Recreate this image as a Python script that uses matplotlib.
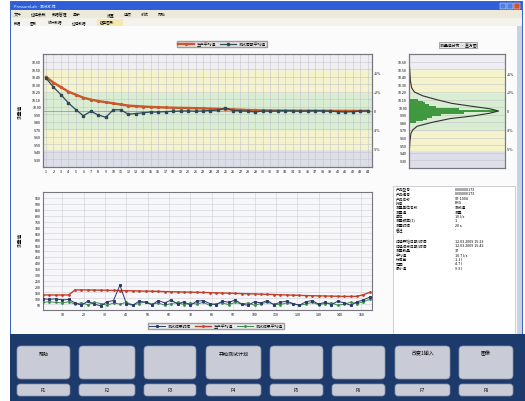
import matplotlib
matplotlib.use('Agg')
import matplotlib.pyplot as plt
from matplotlib.patches import Rectangle, FancyBboxPatch

plt.rcParams['font.family'] = ['Noto Sans CJK SC', 'DejaVu Sans']

# ---------------- data ----------------
top_x = list(range(1, 45))
top_avg = [11.95, 11.2, 10.6, 10.0, 9.6, 9.2, 8.95, 8.75, 8.6, 8.45, 8.3, 8.15, 8.08, 8.02,
           7.97, 7.93, 7.9, 7.87, 7.85, 7.83, 7.81, 7.78, 7.75, 7.72, 7.68, 7.64, 7.6, 7.56,
           7.53, 7.51, 7.5, 7.49, 7.48, 7.48, 7.47, 7.47, 7.46, 7.46, 7.46, 7.45, 7.45, 7.45,
           7.45, 7.45]
top_val = [11.8, 10.6, 9.6, 8.5, 7.6, 6.8, 7.4, 6.9, 6.6, 7.6, 7.6, 7.0, 7.1, 7.2, 7.3, 7.3,
           7.35, 7.4, 7.42, 7.45, 7.4, 7.45, 7.5, 7.55, 7.85, 7.5, 7.45, 7.4, 7.3, 7.45, 7.4,
           7.45, 7.5, 7.45, 7.4, 7.45, 7.5, 7.45, 7.4, 7.35, 7.3, 7.35, 7.4, 7.45]
top_yticks = list(range(1, 15))
top_ylabels = ["9.30", "9.40", "9.50", "9.60", "9.70", "9.80", "9.90", "10.00", "10.10",
               "10.20", "10.30", "10.40", "10.50", "10.60"]
limit_ticks = [2.5, 5.0, 7.5, 10.0, 12.5]
limit_labels = ["-5%", "-2%", "0", "+2%", "+5%"]

hist_y = [6.0, 6.25, 6.5, 6.75, 7.0, 7.25, 7.5, 7.75, 8.0, 8.25, 8.5, 8.75, 9.0]
hist_w = [0.08, 0.15, 0.2, 0.25, 0.35, 0.6, 0.95, 0.55, 0.3, 0.22, 0.18, 0.15, 0.1]
curve_y = [2.5, 3.5, 4.5, 5.0, 5.5, 6.0, 6.5, 6.85, 7.2, 7.5, 7.8, 8.1, 8.5, 9.0, 9.5, 10.0,
           10.5, 11.5, 12.5, 13.5]
curve_w = [0.005, 0.01, 0.02, 0.04, 0.09, 0.25, 0.45, 0.7, 0.88, 0.98, 0.88, 0.7, 0.47,
           0.3, 0.15, 0.06, 0.03, 0.015, 0.01, 0.005]

bot_x = list(range(1, 155, 3))
bot_avg = [2.55, 2.55, 2.55, 2.55, 2.55, 3.4, 3.4, 3.4, 3.38, 3.36, 3.34, 3.32, 3.3, 3.28,
           3.25, 3.22, 3.2, 3.18, 3.15, 3.12, 3.1, 3.07, 3.05, 3.02, 3.0, 2.97, 2.94, 2.91,
           2.88, 2.85, 2.82, 2.78, 2.75, 2.72, 2.68, 2.65, 2.62, 2.58, 2.55, 2.52, 2.48, 2.45,
           2.42, 2.4, 2.38, 2.35, 2.33, 2.3, 2.3, 2.32, 2.6, 3.0]
bot_val = [1.9, 1.8, 1.9, 1.7, 1.8, 1.2, 0.8, 1.5, 1.0, 0.7, 1.4, 1.6, 4.2, 1.1, 0.8, 1.5,
           1.3, 0.9, 1.6, 1.2, 1.7, 1.0, 1.4, 0.8, 1.5, 1.6, 1.1, 0.9, 1.5, 1.3, 1.7, 1.0,
           0.8, 1.4, 1.2, 1.6, 0.9, 1.3, 1.5, 1.1, 0.8, 1.4, 1.6, 1.0, 1.3, 0.9, 1.5, 1.2,
           0.8, 1.4, 1.7, 2.2]
bot_mean = [1.3, 1.4, 1.3, 1.2, 1.4, 1.0, 1.2, 0.9, 1.3, 1.1, 0.8, 1.2, 1.0, 1.3, 0.9, 1.1,
            1.4, 1.0, 1.2, 0.8, 1.1, 1.3, 0.9, 1.2, 1.0, 1.3, 0.8, 1.1, 1.2, 0.9, 1.3, 1.0,
            1.2, 0.8, 1.1, 1.3, 1.0, 0.9, 1.2, 1.1, 0.8, 1.0, 1.3, 0.9, 1.1, 1.2, 0.8, 1.0,
            1.3, 1.1, 1.4, 1.8]
bot_xticks = list(range(10, 151, 10))
bot_yticks = list(range(1, 20))
bot_ylabels = [str(v) for v in range(50, 1000, 50)]

info_labels1 = ["产品型号", "产品编号", "产品名称", "批号", "测量单位名称", "测量值", "单位",
                "测量频率(1)", "测量时间", "备注"]
info_values1 = ["0000000173", "0000000173", "ST-1004", "ERG", "测试值", "测量", "10 l/s", "1",
                "20 s", "-"]
info_labels2 = ["过程开始日期/时间", "过程结束日期/时间", "测量数量", "平均值", "标准差", "范围", "最小值"]
info_values2 = ["12.03.2009 15:23", "12.03.2009 15:42", "37", "10.7 l/s", "1.1 l", "4.7 l",
                "9.3 l"]

button_labels = ["帮助", "", "", "开始测试计划", "", "", "改变1输入", "图像"]
fkey_labels = ["F1", "F2", "F3", "F4", "F5", "F6", "F7", "F8"]

# ---------------- figure ----------------
W, H = 525, 402
fig = plt.figure(figsize=(W / 100, H / 100), dpi=100)
fig.patch.set_facecolor('white')

bg = fig.add_axes([0, 0, 1, 1])
bg.set_xlim(0, W)
bg.set_ylim(H, 0)
bg.axis('off')


def rect(x0, y0, x1, y1, fc, ec='none', lw=0, z=0):
    bg.add_patch(Rectangle((x0, y0), x1 - x0, y1 - y0, facecolor=fc, edgecolor=ec, lw=lw, zorder=z))


# window chrome
rect(10, 2, 523, 402, '#3a66c8')
rect(11, 3, 522, 11, '#2e5fd6')
bg.text(14, 7, 'PressureLab - 测试系统', color='white', fontsize=2.8, va='center')
rect(500, 4, 506, 10, '#4f7fe0', ec='white', lw=0.3)
rect(507, 4, 513, 10, '#4f7fe0', ec='white', lw=0.3)
rect(514, 4, 520, 10, '#d8502c', ec='white', lw=0.3)
rect(11, 11, 522, 19, '#ece9d8')
menu = ["文件", "过程参数", "数据管理", "显示", "", "设置", "选项", "系统", "帮助"]
mx = 14
for m in menu:
    if m:
        bg.text(mx, 15, m, fontsize=2.8, va='center')
    mx += 17 if len(m) <= 2 else 21
rect(11, 19, 522, 27, '#f3f2ec')
rect(97, 20, 123, 27, '#f5e9b0')
tabs = [(14, "数据"), (30, "图形"), (48, "统计数据"), (72, "过程数据"), (100, "趋势图形")]
for tx, tt in tabs:
    bg.text(tx, 23.5, tt, fontsize=2.6, va='center')
rect(11, 27, 522, 335, '#fbfbfc')
rect(517, 27, 522, 335, '#c9d2e3')
rect(393, 187, 515, 336, 'white', ec='#b8bcc8', lw=0.5)

# info panel text
for i, (lab, val) in enumerate(zip(info_labels1, info_values1)):
    y = 190 + i * 4.5
    bg.text(396, y, lab, fontsize=2.7, va='center')
    bg.text(455, y, val, fontsize=2.7, va='center')
for i, (lab, val) in enumerate(zip(info_labels2, info_values2)):
    y = 242 + i * 4.5
    bg.text(396, y, lab, fontsize=2.7, va='center')
    bg.text(455, y, val, fontsize=2.7, va='center')

# bottom button bar
rect(10, 335, 525, 402, '#1d3a6c')
btn_x = [(15, 72), (77, 137), (142, 198), (204, 263), (268, 325), (330, 387), (393, 452), (457, 515)]
for (x0, x1), lab, fk in zip(btn_x, button_labels, fkey_labels):
    bg.add_patch(FancyBboxPatch((x0 + 2, 347), x1 - x0 - 4, 33,
                                boxstyle='round,pad=0,rounding_size=4',
                                facecolor='#c9ccd6', edgecolor='#8a93aa', lw=0.5))
    bg.add_patch(FancyBboxPatch((x0 + 2, 385), x1 - x0 - 4, 12,
                                boxstyle='round,pad=0,rounding_size=3',
                                facecolor='#c9ccd6', edgecolor='#8a93aa', lw=0.5))
    if lab:
        bg.text((x0 + x1) / 2, 354, lab, fontsize=3.6, ha='center', va='center')
    bg.text((x0 + x1) / 2, 391, fk, fontsize=3.4, ha='center', va='center')


def ax_px(x0, y0, x1, y1):
    return fig.add_axes([x0 / W, 1 - y1 / H, (x1 - x0) / W, (y1 - y0) / H])


def bands(ax):
    ax.axhspan(0, 2.4, color='#dedee8', zorder=0)
    ax.axhspan(2.4, 5.0, color='#f5f3cc', zorder=0)
    ax.axhspan(5.0, 10.0, color='#d9edd2', zorder=0)
    ax.axhspan(10.0, 13.0, color='#f5f3cc', zorder=0)
    ax.axhspan(13.0, 15.0, color='#efeff3', zorder=0)


def style(ax):
    for s in ax.spines.values():
        s.set_color('#777780')
        s.set_linewidth(0.8)
    ax.tick_params(length=0, pad=1.5, labelsize=2.6)


# ---- top chart ----
ax1 = ax_px(43, 55, 372, 168)
bands(ax1)
ax1.set_xlim(0.6, 44.6)
ax1.set_ylim(0, 15)
ax1.set_xticks(top_x)
ax1.set_xticklabels([str(v) for v in top_x])
ax1.set_yticks(top_yticks)
ax1.set_yticklabels(top_ylabels)
ax1.grid(True, color='#c4c4cc', lw=0.4)
ax1.set_axisbelow(True)
ax1.axhline(7.5, color='#8c8c8c', lw=0.5, zorder=1)
ax1.plot(top_x, top_avg, color='#c9582a', lw=1.7, marker='o', ms=1.4, zorder=3, label='生产平均值')
ax1.plot(top_x, top_val, color='#2c4a58', lw=0.9, marker='s', ms=1.6, zorder=4, label='测试周期平均值')
style(ax1)
ax1r = ax1.twinx()
ax1r.set_ylim(0, 15)
ax1r.set_yticks(limit_ticks)
ax1r.set_yticklabels(limit_labels)
style(ax1r)
ax1.legend(loc='center', bbox_to_anchor=(222 / W, 1 - 45 / H), bbox_transform=fig.transFigure,
           ncol=2, fontsize=2.8, frameon=True, facecolor='#e6dfe0', edgecolor='#888',
           handlelength=4, borderpad=0.3, columnspacing=1.0, fancybox=False)
fig.text(20 / W, 1 - 112 / H, '测量值', rotation=90, fontsize=3.4, ha='center', va='center')

# ---- histogram ----
ax2 = ax_px(409, 55, 505, 169)
bands(ax2)
ax2.set_xlim(0, 1.05)
ax2.set_ylim(0, 15)
ax2.barh(hist_y, hist_w, height=0.25, color='#2f8f2f', alpha=0.9, zorder=2)
ax2.plot(curve_w, curve_y, color='#303030', lw=0.8, zorder=3)
ax2.set_xticks([])
ax2.set_yticks(top_yticks)
ax2.set_yticklabels(top_ylabels)
ax2.grid(True, axis='y', color='#c4c4cc', lw=0.4)
ax2.set_axisbelow(True)
style(ax2)
ax2r = ax2.twinx()
ax2r.set_ylim(0, 15)
ax2r.set_yticks(limit_ticks)
ax2r.set_yticklabels(limit_labels)
style(ax2r)
fig.text(458 / W, 1 - 46 / H, '测量值分布 · 直方图', fontsize=2.8, ha='center', va='center',
         bbox=dict(boxstyle='square,pad=0.3', facecolor='#e6e6ea', edgecolor='#888', lw=0.5))

# ---- bottom chart ----
ax3 = ax_px(43, 193, 372, 311)
ax3.set_facecolor('#f7f7fa')
ax3.set_xlim(1, 155)
ax3.set_ylim(0, 20)
ax3.set_xticks(bot_xticks)
ax3.set_xticklabels([str(v) for v in bot_xticks])
ax3.set_yticks(bot_yticks)
ax3.set_yticklabels(bot_ylabels)
ax3.grid(True, color='#cfcfd8', lw=0.4)
ax3.set_axisbelow(True)
ax3.plot(bot_x, bot_val, color='#2a3a6a', lw=0.7, marker='s', ms=1.2, zorder=4, label='测试结果时间')
ax3.plot(bot_x, bot_avg, color='#c0402c', lw=1.0, marker='o', ms=1.0, zorder=3, label='生产平均值')
ax3.plot(bot_x, bot_mean, color='#3a8a4a', lw=0.7, marker='o', ms=1.0, zorder=3, label='测试结果平均值')
style(ax3)
ax3.legend(loc='center', bbox_to_anchor=(216 / W, 1 - 327 / H), bbox_transform=fig.transFigure,
           ncol=3, fontsize=2.8, frameon=True, facecolor='#e6e6ea', edgecolor='#888',
           handlelength=4, borderpad=0.3, columnspacing=1.0, fancybox=False)
fig.text(20 / W, 1 - 240 / H, '测量值', rotation=90, fontsize=3.4, ha='center', va='center')

fig.savefig('out.png', dpi=100)
